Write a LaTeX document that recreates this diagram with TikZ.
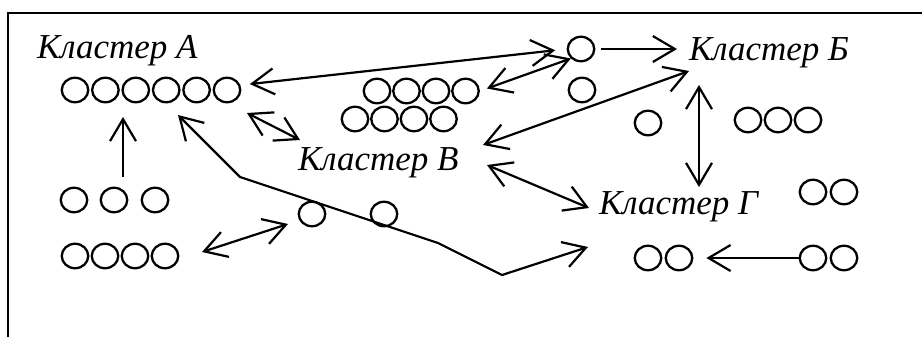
\documentclass[tikz,border=0pt]{standalone}
\usepackage{fontspec}
\setmainfont{Liberation Serif}
\usepackage{tikz}
\usetikzlibrary {
  shapes.geometric,
  arrows.meta,
}
\tikzset{
  obj/.style = {
    ellipse,
    draw = black,
    line width = 2.3pt,
    minimum width = 26.5pt,
    minimum height = 24.5pt,
    inner sep = 0pt
  },
  lbl/.style = {
    anchor = base west,
    inner sep = 0pt,
    font = \fontsize{35}{40}\selectfont\itshape
  },
  arr/.style = {
    -{Straight Barb[length = 22pt, width = 26pt]},
    line width = 2.2pt
  },
  dbl/.style = {
    {Straight Barb[length = 22pt, width = 26pt]}-{Straight Barb[length = 22pt, width = 26pt]},
    line width = 2.2pt
  },
  rim/.style = {
    line width = 2.6pt
  },
}

\begin{document}
\begin{tikzpicture}[x = 1pt, y = -1pt]
  \useasboundingbox (0,0) rectangle (922,337);
  \draw[rim] (8,337) |- (922,13);

  \node[lbl] (kA) at (37,59) {Кластер А};
  \node[lbl] (kB) at (689,61) {Кластер Б};
  \node[lbl] (kV) at (298,170) {Кластер В};
  \node[lbl] (kG) at (599,214) {Кластер Г};

  % circles
  \foreach \i in {1,...,6}
    \node[obj] (a\i) at ({75+30.4*(\i-1)},90) {};
  \foreach \i/\x in {1/74, 2/114, 3/155}
    \node[obj] (b\i) at (\x,200) {};
  \foreach \i in {1,...,4} {
    \node[obj] (c\i) at ({75+30*(\i-1)},256) {};
    \node[obj] (m\i) at ({377+29.5*(\i-1)},91) {};
    \node[obj] (n\i) at ({355+29.5*(\i-1)},119) {};
  }
  \foreach \i in {1,2,3}
    \node[obj] (r\i) at ({748+30*(\i-1)},120) {};
  \node[obj] (p1) at (581,49) {};
  \node[obj] (p2) at (582,90) {};
  \node[obj] (s1) at (312,214) {};
  \node[obj] (s2) at (384,214) {};
  \node[obj] (q1) at (648,123) {};
  \node[obj] (e1) at (813,192) {};
  \node[obj] (e2) at (844,192) {};
  \node[obj] (g1) at (648,258) {};
  \node[obj] (g2) at (679,258) {};
  \node[obj] (h1) at (813,258) {};
  \node[obj] (h2) at (844,258) {};

  % free ends
  \coordinate (bv1) at (689,71);
  \coordinate (bv2) at (483,145);
  \coordinate (vg1) at (487,165);
  \coordinate (vg2) at (589,208);
  \coordinate (bg1) at (699,85);
  \coordinate (bg2) at (699,187);
  \coordinate (av1) at (247,113);
  \coordinate (av2) at (300,140);
  \coordinate (ba1) at (123,177);
  \coordinate (ba2) at (123,117);
  \coordinate (cs1) at (202,252);
  \coordinate (cs2) at (288,224);
  \coordinate (pl1) at (178,115);
  \coordinate (pl2) at (240,177);
  \coordinate (pl3) at (438,243);
  \coordinate (pl4) at (502,275);
  \coordinate (pl5) at (588,247);

  \draw[dbl, shorten <= 9.5pt, shorten >= 11.5pt] (a6.20) -- (p1.west);
  \draw[dbl, shorten <= 7.5pt] (m4.east) -- (p1.south west);
  \draw[arr, shorten <= 5.5pt, shorten >= 12pt] (p1.east) -- (p1.east -| kB.west);
  \draw[dbl] (bv1) -- (bv2);
  \draw[dbl] (vg1) -- (vg2);
  \draw[dbl] (bg1) -- (bg2);
  \draw[dbl] (av1) -- (av2);
  \draw[arr] (ba1) -- (ba2);
  \draw[dbl] (cs1) -- (cs2);
  \draw[dbl] (pl1) -- (pl2) -- (pl3) -- (pl4) -- (pl5);
  \draw[arr, shorten >= 13pt] (h1.west) -- (g2.east);
\end{tikzpicture}
\end{document}
